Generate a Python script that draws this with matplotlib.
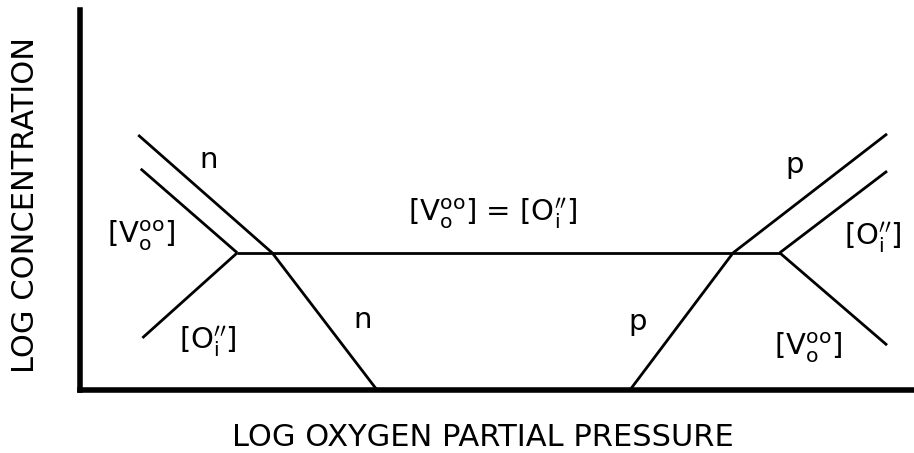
import matplotlib
matplotlib.use("Agg")
import matplotlib.pyplot as plt

# log oxygen partial pressure (x) / log concentration (y), arbitrary units
plateau = 3.61

n_x = [0.70, 2.31, 3.57]
n_y = [6.71, plateau, 0.0]

p_x = [9.70, 7.85, 6.61]
p_y = [6.74, plateau, 0.0]

vo_left_x = [0.73, 1.89]
vo_left_y = [5.82, plateau]
oi_left_x = [0.75, 1.89]
oi_left_y = [1.37, plateau]

oi_right_x = [9.70, 8.41]
oi_right_y = [5.76, plateau]
vo_right_x = [9.70, 8.41]
vo_right_y = [1.18, plateau]

flat_x = [1.89, 8.41]
flat_y = [plateau, plateau]

VO = r"[V$_{\rm o}^{\rm oo}$]"
OI = r"[O$_{\rm i}^{\prime\prime}$]"

labels = [
    ("n", 1.54, 6.05),
    (VO, 0.74, 4.05),
    (OI, 1.54, 1.24),
    ("n", 3.40, 1.84),
    (VO + " = " + OI, 4.96, 4.63),
    ("p", 8.59, 5.92),
    (OI, 9.53, 4.00),
    ("p", 6.70, 1.79),
    (VO, 8.75, 1.10),
]

plt.rcParams["mathtext.fontset"] = "dejavusans"

fig = plt.figure(figsize=(9.14, 4.53), dpi=100)
ax = fig.add_axes([80 / 914, 63 / 453, 832 / 914, 380 / 453])

lw = 2.0
for xs, ys in [(n_x, n_y), (p_x, p_y), (vo_left_x, vo_left_y), (oi_left_x, oi_left_y),
               (oi_right_x, oi_right_y), (vo_right_x, vo_right_y), (flat_x, flat_y)]:
    ax.plot(xs, ys, color="black", lw=lw, solid_capstyle="butt", clip_on=False)

for txt, x, y in labels:
    ax.text(x, y, txt, fontsize=21, ha="center", va="center")

ax.set_xlim(0, 10)
ax.set_ylim(0, 10)
ax.set_xticks([])
ax.set_yticks([])
for side in ["top", "right"]:
    ax.spines[side].set_visible(False)
for side in ["left", "bottom"]:
    ax.spines[side].set_linewidth(4)

fig.text(483 / 914, 1 - 437 / 453, "LOG OXYGEN PARTIAL PRESSURE", fontsize=22,
         ha="center", va="center")
fig.text(26 / 914, 1 - 205 / 453, "LOG CONCENTRATION", fontsize=22,
         ha="center", va="center", rotation=90)

fig.savefig("out.png", dpi=100)
